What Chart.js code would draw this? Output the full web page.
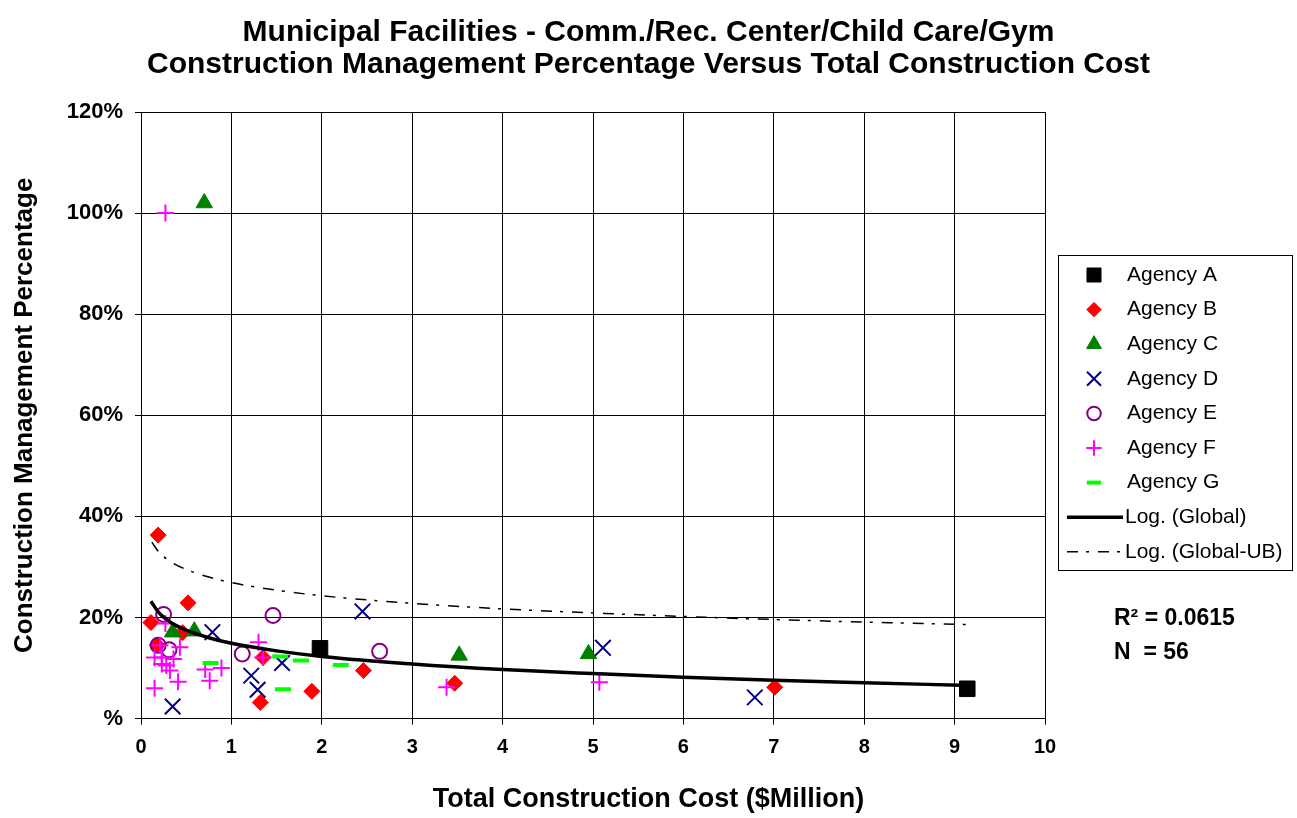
<!DOCTYPE html>
<html>
<head>
<meta charset="utf-8">
<script src="https://cdn.jsdelivr.net/npm/chart.js@4.4.1/dist/chart.umd.min.js"></script>
<style>
  html, body { margin: 0; padding: 0; background: #fff; }
  #wrap { width: 1297px; height: 818px; }
</style>
</head>
<body>
<div id="wrap"><canvas id="chart"></canvas></div>
<script>
Chart.defaults.font.family = "'Liberation Sans', Arial, sans-serif";
Chart.defaults.color = '#000';

// cost in $Million, CM percentage
const agencyA_x = [1.98, 9.14];
const agencyA_y = [13.9, 5.9];

const agencyB_x = [0.19, 0.11, 0.52, 0.18, 0.46, 1.35, 1.32, 1.89, 2.46, 3.47, 7.01];
const agencyB_y = [36.3, 19.0, 22.9, 14.5, 17.0, 12.1, 3.2, 5.4, 9.5, 7.0, 6.2];

const agencyC_x = [0.70, 0.35, 0.59, 3.52, 4.95];
const agencyC_y = [102.0, 17.1, 17.3, 12.5, 12.8];

const agencyD_x = [0.79, 0.35, 1.56, 1.22, 1.29, 2.45, 5.11, 6.79];
const agencyD_y = [17.1, 2.4, 11.0, 8.5, 5.7, 21.2, 14.0, 4.2];

const agencyE_x = [0.25, 0.19, 0.31, 1.12, 1.46, 2.64];
const agencyE_y = [20.6, 14.5, 13.6, 12.8, 20.4, 13.3];

const agencyF_x = [0.27, 0.21, 0.27, 0.43, 0.15, 0.23, 0.36, 0.23, 0.28, 0.32, 0.41, 0.15, 0.71, 0.89, 0.76, 1.30, 1.35, 3.38, 5.07];
const agencyF_y = [100.0, 14.5, 18.8, 14.1, 12.1, 12.1, 11.8, 10.8, 10.5, 9.5, 7.3, 6.0, 9.7, 10.0, 7.5, 15.1, 12.1, 6.2, 7.2];

const agencyG_x = [0.77, 1.54, 1.77, 1.57, 2.21];
const agencyG_y = [11.0, 12.3, 11.5, 5.8, 10.6];

// trend curves
const logGlobal_x = [0.11, 0.2, 0.35, 0.5, 0.75, 1, 1.5, 2, 3, 4, 5, 6, 7, 8, 9.06];
const logGlobal_y = [23.2, 20.9, 18.8, 17.5, 16.0, 14.9, 13.4, 12.3, 10.8, 9.7, 8.9, 8.2, 7.6, 7.1, 6.6];

const logUB_x = [0.12, 0.2, 0.35, 0.5, 0.75, 1, 1.5, 2, 3, 4, 5, 6, 7, 8, 9.14];
const logUB_y = [34.9, 32.9, 30.8, 29.5, 28.0, 26.9, 25.4, 24.3, 22.8, 21.7, 20.9, 20.2, 19.6, 19.1, 18.6];

const xTicks = [0, 1, 2, 3, 4, 5, 6, 7, 8, 9, 10];
const yTicks = [0, 20, 40, 60, 80, 100, 120];

const statLines = ['R\u00B2 = 0.0615', 'N  = 56'];

const pts = (xs, ys) => xs.map((x, i) => ({ x: x, y: ys[i] }));

function markerSet(label, xs, ys, style, radius, fill, stroke, bw, order) {
    return {
        label: label, data: pts(xs, ys), order: order,
        pointStyle: style, pointRadius: radius, pointHoverRadius: radius,
        backgroundColor: fill, borderColor: stroke, borderWidth: bw,
        pointBackgroundColor: fill, pointBorderColor: stroke, pointBorderWidth: bw,
        showLine: false
    };
}

const datasets = [
    markerSet('Agency A', agencyA_x, agencyA_y, 'rect', 11, '#000000', '#000000', 1, 9),
    markerSet('Agency B', agencyB_x, agencyB_y, 'rectRot', 8, '#ff0000', '#ff0000', 1, 8),
    markerSet('Agency C', agencyC_x, agencyC_y, 'triangle', 9.5, '#008000', '#008000', 1, 7),
    markerSet('Agency D', agencyD_x, agencyD_y, 'crossRot', 11, '#000080', '#000080', 2, 6),
    markerSet('Agency E', agencyE_x, agencyE_y, 'circle', 7.5, 'rgba(0,0,0,0)', '#800080', 2, 5),
    markerSet('Agency F', agencyF_x, agencyF_y, 'cross', 8.5, '#ff00ff', '#ff00ff', 2, 4),
    markerSet('Agency G', agencyG_x, agencyG_y, 'line', 8, '#00ff00', '#00ff00', 4, 3),
    {
        label: 'Log. (Global)', data: pts(logGlobal_x, logGlobal_y), order: 1,
        showLine: true, pointRadius: 0, pointHoverRadius: 0,
        borderColor: '#000', borderWidth: 3.5, cubicInterpolationMode: 'monotone', fill: false
    },
    {
        label: 'Log. (Global-UB)', data: pts(logUB_x, logUB_y), order: 2,
        showLine: true, pointRadius: 0, pointHoverRadius: 0,
        borderColor: '#000', borderWidth: 1.5, borderDash: [11, 8, 3, 9],
        cubicInterpolationMode: 'monotone', fill: false
    }
];

// boxed legend on the right + R² / N note
const legendBox = {
    id: 'legendBox',
    afterDraw(chart) {
        const ctx = chart.ctx;
        ctx.save();
        ctx.strokeStyle = '#000';
        ctx.lineWidth = 1;
        ctx.setLineDash([]);
        ctx.strokeRect(1058.5, 255.5, 234, 315);

        ctx.font = "21px 'Liberation Sans', Arial, sans-serif";
        ctx.textBaseline = 'middle';
        ctx.textAlign = 'left';
        chart.data.datasets.forEach((ds, i) => {
            const y = 275 + i * 34.6;
            if (ds.showLine) {
                ctx.strokeStyle = ds.borderColor;
                ctx.lineWidth = ds.borderWidth;
                ctx.setLineDash(ds.borderDash || []);
                ctx.beginPath();
                ctx.moveTo(1067, y);
                ctx.lineTo(1123, y);
                ctx.stroke();
                ctx.setLineDash([]);
                ctx.fillStyle = '#000';
                ctx.fillText(ds.label, 1125, y);
            } else {
                ctx.fillStyle = ds.backgroundColor;
                ctx.strokeStyle = ds.borderColor;
                ctx.lineWidth = ds.borderWidth;
                Chart.helpers.drawPoint(ctx, {
                    pointStyle: ds.pointStyle, radius: ds.pointRadius * 0.9,
                    borderWidth: ds.borderWidth, rotation: 0
                }, 1094, y);
                ctx.fillStyle = '#000';
                ctx.fillText(ds.label, 1127, y);
            }
        });

        ctx.font = "bold 23px 'Liberation Sans', Arial, sans-serif";
        ctx.fillStyle = '#000';
        statLines.forEach((t, i) => ctx.fillText(t, 1114, 619 + i * 34));
        ctx.restore();
    }
};

new Chart(document.getElementById('chart'), {
    type: 'scatter',
    data: { datasets: datasets },
    plugins: [legendBox],
    options: {
        responsive: true, maintainAspectRatio: false,
        animation: false, events: [],
        layout: { padding: 0 },
        scales: {
            x: {
                type: 'linear', min: 0, max: 10,
                afterBuildTicks: (s) => { s.ticks = xTicks.map(v => ({ value: v })); },
                afterFit: (s) => { s.height = 50; },
                grid: { color: '#000', lineWidth: 1, tickLength: 6, tickColor: '#000' },
                border: { color: '#000', width: 1 },
                ticks: { padding: 11, font: { size: 20, weight: 'bold' }, color: '#000' }
            },
            y: {
                type: 'linear', min: 0, max: 120,
                afterBuildTicks: (s) => { s.ticks = yTicks.map(v => ({ value: v })); },
                afterFit: (s) => { s.width = 141; },
                grid: { color: '#000', lineWidth: 1, tickLength: 6, tickColor: '#000' },
                border: { color: '#000', width: 1 },
                ticks: {
                    padding: 12, font: { size: 22, weight: 'bold' }, color: '#000',
                    callback: (v) => v === 0 ? '%' : v + '%'
                },
                title: {
                    display: true, text: 'Construction Management Percentage',
                    font: { size: 26, weight: 'bold' }, color: '#000',
                    padding: { top: 9, bottom: 0 }
                }
            },
            // empty right-hand axis that reserves room for the legend box
            yRight: {
                type: 'linear', position: 'right', min: 0, max: 1,
                afterFit: (s) => { s.width = 252; },
                grid: { display: false, drawTicks: false },
                border: { display: false },
                ticks: { display: false }
            }
        },
        plugins: {
            legend: { display: false },
            tooltip: { enabled: false },
            title: {
                display: true,
                text: ['Municipal Facilities - Comm./Rec. Center/Child Care/Gym',
                       'Construction Management Percentage Versus Total Construction Cost'],
                font: { size: 30, weight: 'bold', lineHeight: 1.05 }, color: '#000',
                padding: { top: 17, bottom: 32 }
            },
            subtitle: {
                display: true, position: 'bottom',
                text: 'Total Construction Cost ($Million)',
                font: { size: 27, weight: 'bold', lineHeight: 1.2 }, color: '#000',
                padding: { top: 15, bottom: 2 }
            }
        }
    }
});
</script>
</body>
</html>
